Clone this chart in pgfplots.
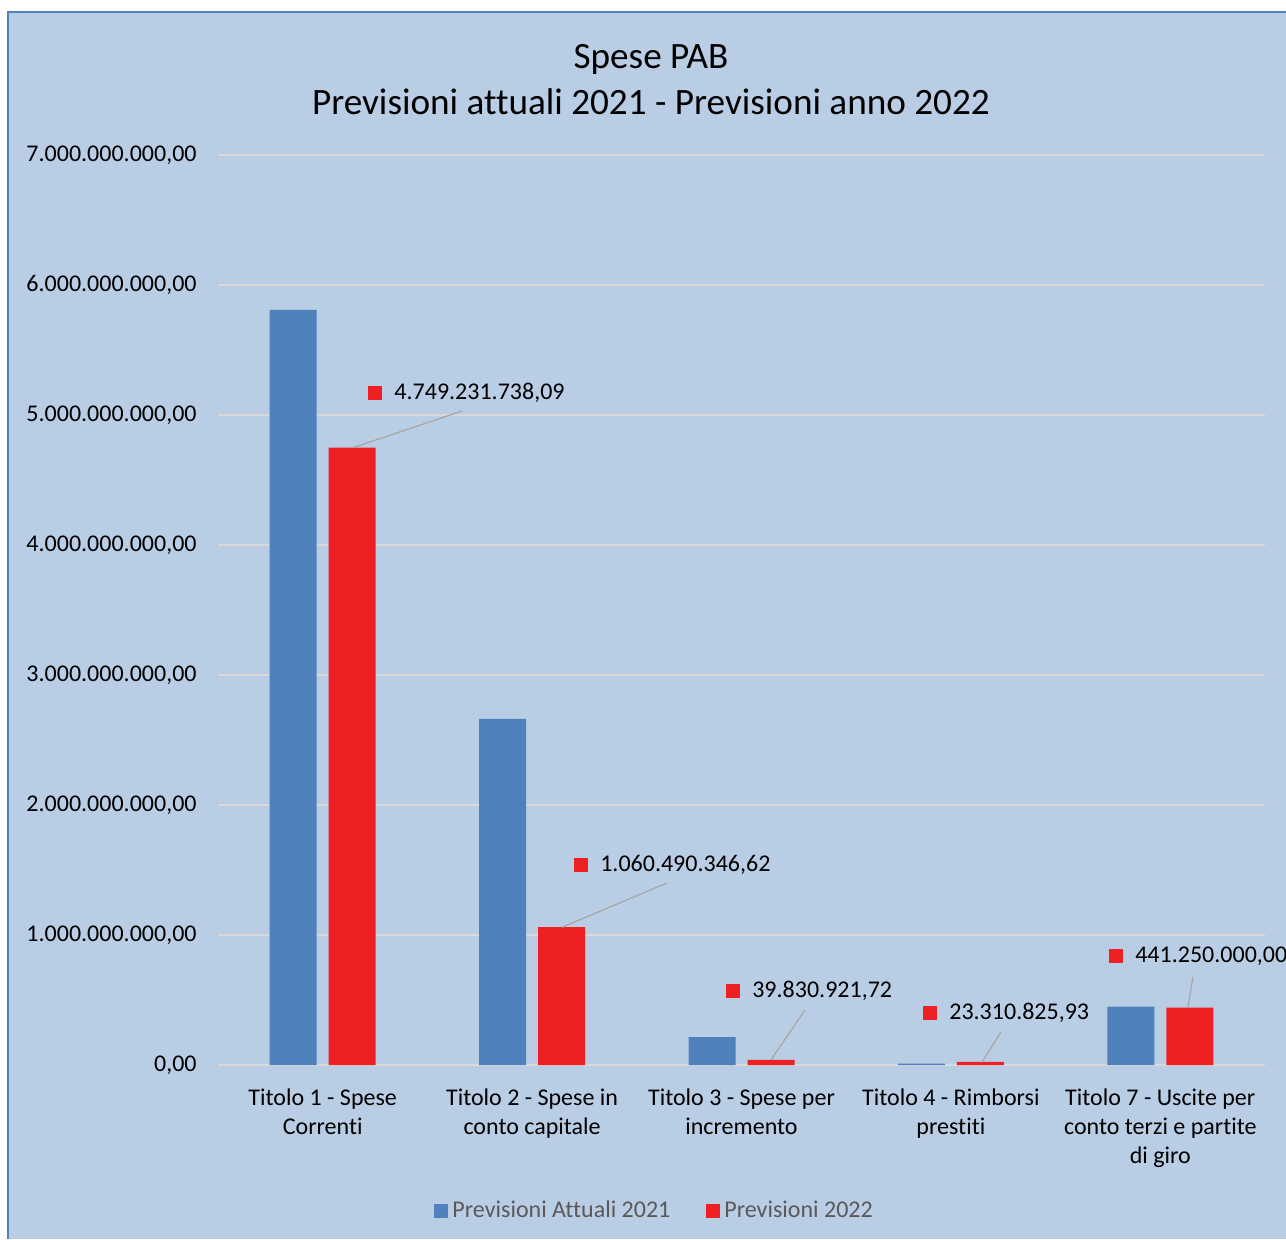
\documentclass[border=0pt]{standalone}
\usepackage{pgfplots}
\pgfplotsset{compat=1.18}
\usepackage{fontspec}
\setmainfont[Ligatures={NoCommon}]{Carlito}
\definecolor{bgblue}{HTML}{B9CDE5}
\definecolor{frameblue}{HTML}{4F81BD}
\definecolor{barblue}{HTML}{4F81BD}
\definecolor{barred}{HTML}{EE2024}
\definecolor{gridgrey}{HTML}{D9D9D9}
\definecolor{leadgrey}{HTML}{A6A6A6}
\definecolor{legtext}{HTML}{595959}
\newcommand{\dlab}[3]{%
  \fill[barred] (axis cs:#1,#2) ++(-3.5pt,-3.5pt) rectangle ++(7pt,7pt);
  \node[anchor=west, inner sep=0pt, xshift=9.5pt, font=\fontsize{12}{14}\selectfont] at (axis cs:#1,#2) {#3};
}
\begin{document}
\begin{tikzpicture}
\useasboundingbox (0,0) rectangle (643pt,619.5pt);
\fill[white] (0,0) rectangle (643pt,619.5pt);
\fill[bgblue] (4pt,0) rectangle (643pt,613.5pt);
\draw[frameblue, line width=0.8pt] (4pt,0) -- (4pt,613.5pt) -- (643pt,613.5pt);
\node[font=\fontsize{18.6}{22}\selectfont, align=center] at (325.5pt,590pt) {Spese PAB};
\node[font=\fontsize{18.6}{22}\selectfont, align=center] at (325.5pt,568.5pt) {Previsioni attuali 2021 - Previsioni anno 2022};
\begin{axis}[
  at={(109pt,87pt)}, anchor=south west,
  scale only axis, width=523.5pt, height=455pt,
  xmin=-0.5, xmax=4.5, ymin=0, ymax=7e9,
  scaled y ticks=false,
  axis line style={draw=none},
  major tick length=0pt,
  ymajorgrids, grid style={color=gridgrey, line width=1pt},
  ytick={0,1e9,2e9,3e9,4e9,5e9,6e9,7e9},
  yticklabels={{0,00},{1.000.000.000,00},{2.000.000.000,00},{3.000.000.000,00},{4.000.000.000,00},{5.000.000.000,00},{6.000.000.000,00},{7.000.000.000,00}},
  yticklabel style={font=\fontsize{12}{14.5}\selectfont, inner sep=0pt, xshift=-10.5pt},
  xtick={0,1,2,3,4},
  xticklabels={{Titolo 1 - Spese\\Correnti},{Titolo 2 - Spese in\\conto capitale},{Titolo 3 - Spese per\\incremento},{Titolo 4 - Rimborsi\\prestiti},{Titolo 7 - Uscite per\\conto terzi e partite\\di giro}},
  xticklabel style={font=\fontsize{12}{14.5}\selectfont, align=center, inner sep=0pt, yshift=-11.5pt},
  ybar, bar width=23.5pt,
  legend style={at={(0.418,-0.16)}, anchor=center, draw=none, fill=none, legend columns=-1,
    font=\fontsize{12}{14}\selectfont, text=legtext,
    /tikz/every even column/.append style={column sep=16pt}},
  legend image code/.code={\fill[#1] (0pt,-3.5pt) rectangle (7pt,3.5pt);},
  clip=false,
]
\addplot[fill=barblue, draw=none, bar shift=-14.75pt] coordinates {(0,5.808e9) (1,2.662e9) (2,0.215e9) (3,0.01e9) (4,0.45e9)};
\addlegendentry{Previsioni Attuali 2021}
\addplot[fill=barred, draw=none, bar shift=14.75pt] coordinates {(0,4.749231738e9) (1,1.060490346e9) (2,0.039830921e9) (3,0.023310825e9) (4,0.44125e9)};
\addlegendentry{Previsioni 2022}
% leader lines
\draw[leadgrey, line width=0.6pt] (axis cs:0.1447,4.749e9) -- (axis cs:0.665,5.03e9);
\draw[leadgrey, line width=0.6pt] (axis cs:1.143,1.060e9) -- (axis cs:1.644,1.40e9);
\draw[leadgrey, line width=0.6pt] (axis cs:2.141,0.040e9) -- (axis cs:2.303,0.423e9);
\draw[leadgrey, line width=0.6pt] (axis cs:3.149,0.023e9) -- (axis cs:3.239,0.254e9);
\draw[leadgrey, line width=0.6pt] (axis cs:4.132,0.441e9) -- (axis cs:4.156,0.677e9);
% labels
\dlab{0.250}{5.169e9}{4.749.231.738,09}
\dlab{1.233}{1.538e9}{1.060.490.346,62}
\dlab{1.959}{0.569e9}{39.830.921,72}
\dlab{2.900}{0.400e9}{23.310.825,93}
\dlab{3.788}{0.838e9}{441.250.000,00}
\end{axis}
\end{tikzpicture}
\end{document}
